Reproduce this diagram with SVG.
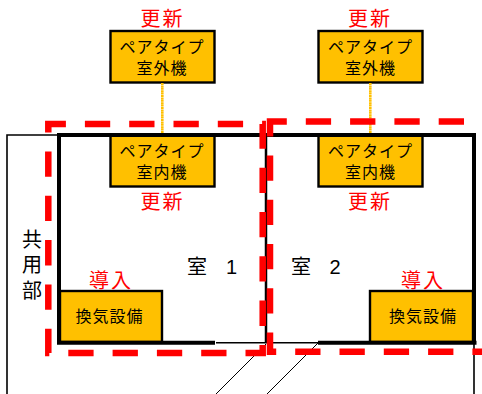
<svg xmlns="http://www.w3.org/2000/svg" width="482" height="394" viewBox="0 0 482 394">
<style>
text{font-family:"Noto Sans CJK JP","Noto Sans",sans-serif;text-anchor:middle;fill:#000}
.b{fill:#FFC000;stroke:#000;stroke-width:2.4}
.l{font-size:16px;letter-spacing:1px}
.r{font-size:20px;fill:#f00;letter-spacing:2px}
.t{font-size:20px}
.g{font-family:"Liberation Sans",sans-serif}
.w{fill:none;stroke:#000;stroke-width:4}
.n{fill:none;stroke:#000;stroke-width:1.6}
.d{fill:none;stroke:#f00;stroke-width:6.5;stroke-dasharray:25.3 19}
.p{stroke:#FFC000;stroke-width:2.6;stroke-dasharray:2 .4}
</style>
<rect width="482" height="394" fill="#fff"/>
<g id="outdoor1"><rect class="b" x="110.5" y="31" width="104" height="51.5"/><text class="l" x="162" y="53">ペアタイプ</text><text class="l" x="162" y="74">室外機</text></g>
<g id="outdoor2"><rect class="b" x="318.5" y="31" width="104" height="51.5"/><text class="l" x="370.5" y="53">ペアタイプ</text><text class="l" x="370.5" y="74">室外機</text></g>
<g id="indoor1"><rect class="b" x="110.5" y="135.5" width="104" height="51"/><text class="l" x="162" y="157">ペアタイプ</text><text class="l" x="162" y="178">室内機</text></g>
<g id="indoor2"><rect class="b" x="318.5" y="135.5" width="104" height="51"/><text class="l" x="370.5" y="157">ペアタイプ</text><text class="l" x="370.5" y="178">室内機</text></g>
<g id="vent1"><rect class="b" x="60" y="291" width="102" height="51"/><text class="l" x="109.5" y="322">換気設備</text></g>
<g id="vent2"><rect class="b" x="370" y="291" width="103" height="51"/><text class="l" x="423" y="322">換気設備</text></g>
<g id="connectors">
<path class="n" d="M7,394V135H58M216,342.7H318M474,344V394"/>
<path d="M266,133V343" fill="none" stroke="#000" stroke-width="2.5"/>
<path d="M216,394L266,344M267,394L318,343" fill="none" stroke="#000" stroke-width="1"/>
<path class="w" d="M59,133V342.8H215M318,342.8H476.5M474,342.8V135H57"/>
<path class="p" d="M162.3,83V133M370.3,83V133"/>
<path class="d" d="M48.3,131.7V124H262.7V353H48.3Z"/>
<path class="d" d="M270,130V121.5H486V351.7H270Z"/>
</g>
<g id="labels">
<text class="r" x="162.5" y="26">更新</text><text class="r" x="370" y="26">更新</text>
<text class="r" x="162.5" y="209">更新</text><text class="r" x="370" y="209">更新</text>
<text class="r" x="111" y="288">導入</text><text class="r" x="423" y="288">導入</text>
<text class="t" x="32" y="247">共</text><text class="t" x="32" y="272">用</text><text class="t" x="32" y="298">部</text>
<text class="t" x="197" y="274">室</text><text class="t g" x="231.5" y="274">1</text>
<text class="t" x="301" y="274">室</text><text class="t g" x="335" y="274">2</text>
</g>
</svg>
